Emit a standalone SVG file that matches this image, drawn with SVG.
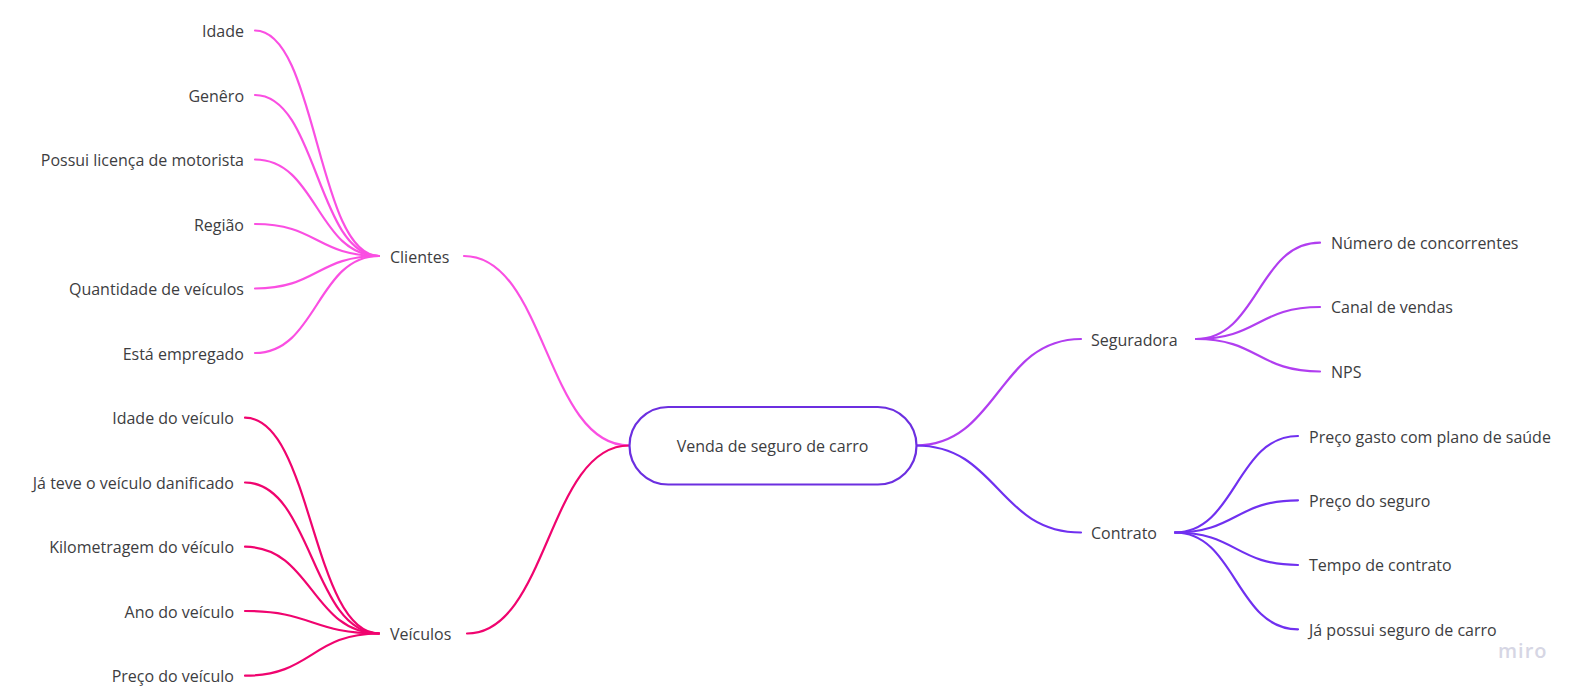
<svg xmlns="http://www.w3.org/2000/svg" width="1586" height="695" viewBox="0 0 1586 695">
<style>
text{font-family:"Open Sans","Noto Sans","Liberation Sans",sans-serif;font-size:16px;fill:#3d3d3f;dominant-baseline:central}
.e{text-anchor:end}
#connectors path{fill:none;stroke-width:2.2;stroke-linecap:round}
.p{stroke:#fa4fe2}.r{stroke:#f0046f}.v{stroke:#b13ef0}.b{stroke:#7030f0}
</style>
<rect width="1586" height="695" fill="#fff"/>
<g id="connectors">
<g class="p">
<path d="M255 30.5C317 30.5 317 256 379 256"/>
<path d="M255 95C317 95 317 256 379 256"/>
<path d="M255 159.5C317 159.5 317 256 379 256"/>
<path d="M255 224C317 224 317 256 379 256"/>
<path d="M255 288.500C317 288.500 317 256 379 256"/>
<path d="M255 353C317 353 317 256 379 256"/>
<path d="M464 256C546 256 546 445.500 629 445.500"/>
</g>
<g class="r">
<path d="M245 417.700C312 417.700 312 633.500 379 633.500"/>
<path d="M245 482.500C312 482.500 312 633.500 379 633.500"/>
<path d="M245 546.700C312 546.700 312 633.500 379 633.500"/>
<path d="M245 611C312 611 312 633.500 379 633.500"/>
<path d="M245 675.700C312 675.700 312 633.500 379 633.500"/>
<path d="M467 633.500C548 633.500 548 445.500 629 445.500"/>
</g>
<g class="v">
<path d="M916 445.500C998 445.500 998 339 1081 339"/>
<path d="M1196 339C1258 339 1258 242.700 1320 242.700"/>
<path d="M1196 339C1258 339 1258 307 1320 307"/>
<path d="M1196 339C1258 339 1258 371.500 1320 371.500"/>
</g>
<g class="b">
<path d="M916 445.500C998 445.500 998 532.500 1081 532.500"/>
<path d="M1175 532.500C1236 532.500 1236 436 1298 436"/>
<path d="M1175 532.500C1236 532.500 1236 500.300 1298 500.300"/>
<path d="M1175 532.500C1236 532.500 1236 565 1298 565"/>
<path d="M1175 532.500C1236 532.500 1236 629.300 1298 629.300"/>
</g>
</g>
<g id="center"><rect x="629.500" y="407" width="287" height="77.500" rx="38.700" fill="#fff" stroke="#6c2fe0" stroke-width="2.200"/><text x="772.500" y="446" text-anchor="middle">Venda de seguro de carro</text></g>
<g id="clientes"><text x="390" y="257">Clientes</text></g>
<g id="veiculos"><text x="390" y="634">Veículos</text></g>
<g id="seguradora"><text x="1091" y="340">Seguradora</text></g>
<g id="contrato"><text x="1091" y="533">Contrato</text></g>
<g id="c1"><text class="e" x="244" y="31">Idade</text></g>
<g id="c2"><text class="e" x="244" y="96">Genêro</text></g>
<g id="c3"><text class="e" x="244" y="160">Possui licença de motorista</text></g>
<g id="c4"><text class="e" x="244" y="225">Região</text></g>
<g id="c5"><text class="e" x="244" y="289">Quantidade de veículos</text></g>
<g id="c6"><text class="e" x="244" y="354">Está empregado</text></g>
<g id="v1"><text class="e" x="234" y="418">Idade do veículo</text></g>
<g id="v2"><text class="e" x="234" y="483">Já teve o veículo danificado</text></g>
<g id="v3"><text class="e" x="234" y="547">Kilometragem do véículo</text></g>
<g id="v4"><text class="e" x="234" y="612">Ano do veículo</text></g>
<g id="v5"><text class="e" x="234" y="676">Preço do veículo</text></g>
<g id="s1"><text x="1331" y="243">Número de concorrentes</text></g>
<g id="s2"><text x="1331" y="307">Canal de vendas</text></g>
<g id="s3"><text x="1331" y="372">NPS</text></g>
<g id="k1"><text x="1309" y="437">Preço gasto com plano de saúde</text></g>
<g id="k2"><text x="1309" y="501">Preço do seguro</text></g>
<g id="k3"><text x="1309" y="565">Tempo de contrato</text></g>
<g id="k4"><text x="1309" y="630">Já possui seguro de carro</text></g>
<text x="1498" y="650" style="font-size:20px;font-weight:600;fill:#d6d6e4;letter-spacing:1px">miro</text>
</svg>
